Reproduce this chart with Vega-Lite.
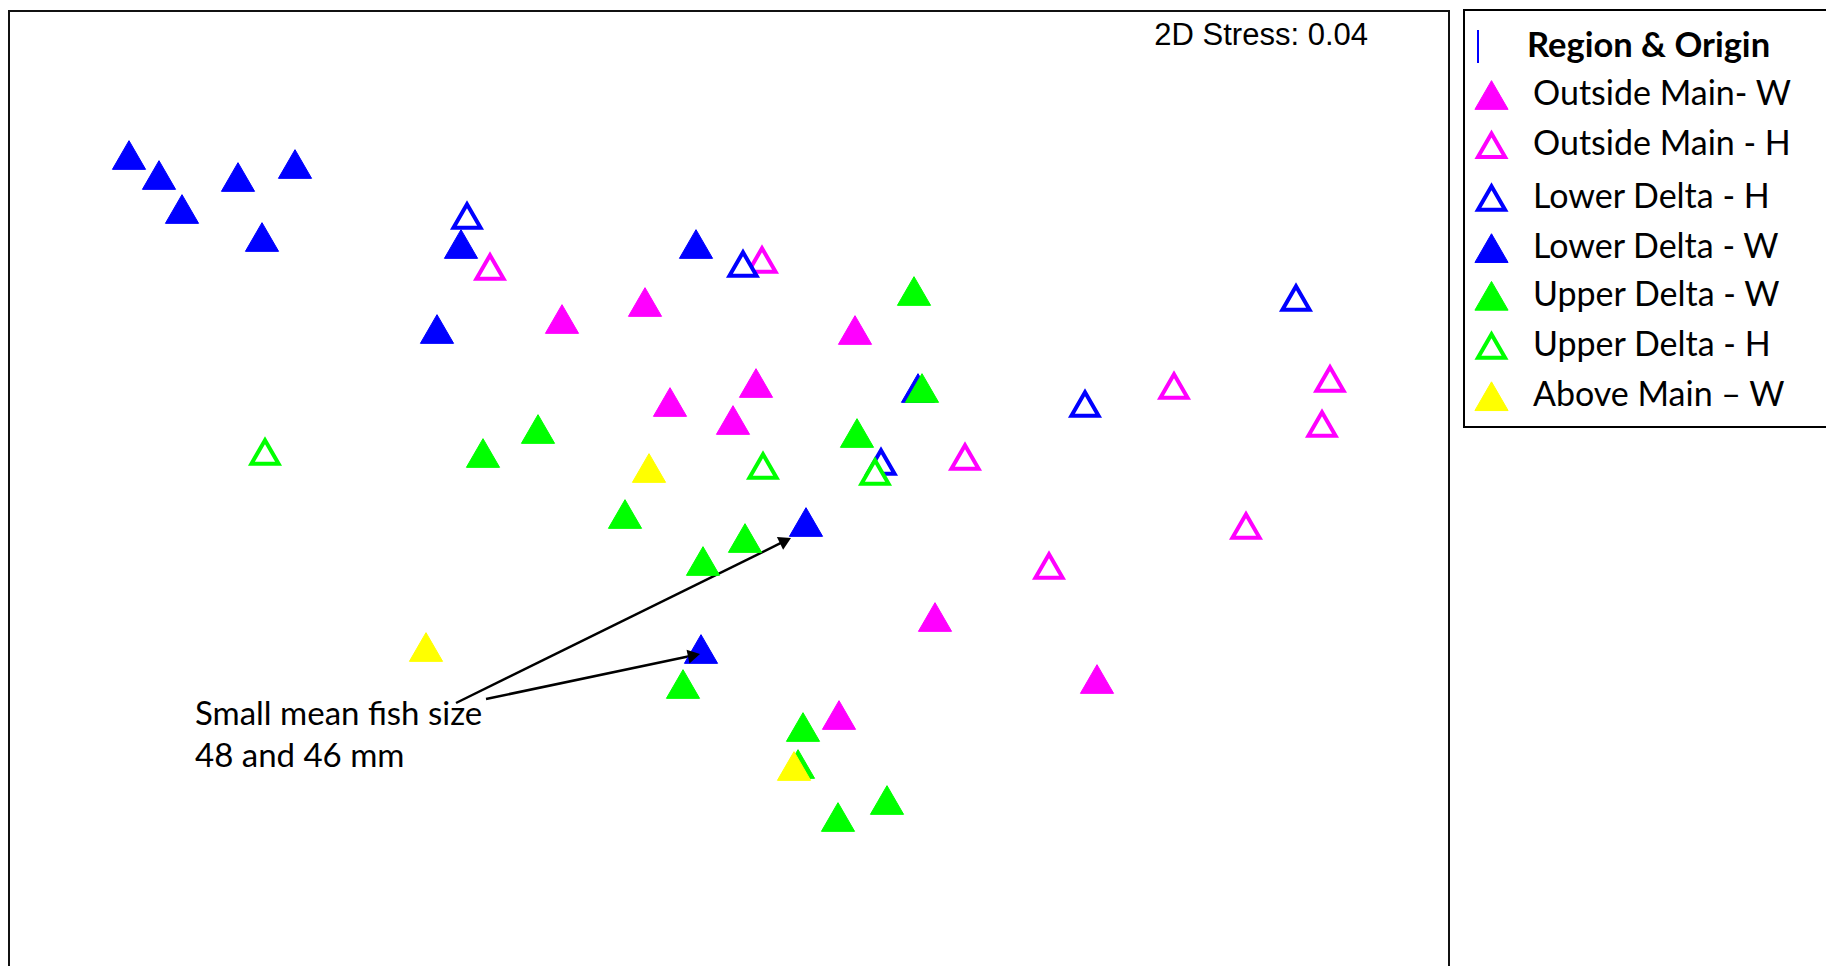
{
  "$schema": "https://vega.github.io/schema/vega-lite/v6.json",
  "width": 1440,
  "height": 1000,
  "autosize": {"type": "none"},
  "padding": {"left": 9, "top": 11, "right": 377, "bottom": 0},
  "background": "white",
  "config": {
    "view": {"stroke": "#111111", "strokeWidth": 2},
    "axis": {"grid": false}
  },
  "datasets": {
    "pts": [
      {"x": -1.67, "y": 1.69, "group": "Outside Main- W"},
      {"x": -0.84, "y": 1.86, "group": "Outside Main- W"},
      {"x": -0.59, "y": 0.86, "group": "Outside Main- W"},
      {"x": 1.26, "y": 1.58, "group": "Outside Main- W"},
      {"x": 0.27, "y": 1.05, "group": "Outside Main- W"},
      {"x": 0.04, "y": 0.68, "group": "Outside Main- W"},
      {"x": 2.06, "y": -1.29, "group": "Outside Main- W"},
      {"x": 3.68, "y": -1.91, "group": "Outside Main- W"},
      {"x": 1.10, "y": -2.27, "group": "Outside Main- W"},
      {"x": -2.39, "y": 2.21, "group": "Outside Main - H"},
      {"x": 0.33, "y": 2.28, "group": "Outside Main - H"},
      {"x": 4.45, "y": 1.02, "group": "Outside Main - H"},
      {"x": 6.01, "y": 1.09, "group": "Outside Main - H"},
      {"x": 5.93, "y": 0.64, "group": "Outside Main - H"},
      {"x": 2.36, "y": 0.31, "group": "Outside Main - H"},
      {"x": 5.17, "y": -0.38, "group": "Outside Main - H"},
      {"x": 3.20, "y": -0.78, "group": "Outside Main - H"},
      {"x": -2.62, "y": 2.72, "group": "Lower Delta - H"},
      {"x": 0.14, "y": 2.24, "group": "Lower Delta - H"},
      {"x": 5.67, "y": 1.90, "group": "Lower Delta - H"},
      {"x": 3.56, "y": 0.84, "group": "Lower Delta - H"},
      {"x": 1.52, "y": 0.26, "group": "Lower Delta - H"},
      {"x": -6.00, "y": 3.33, "group": "Lower Delta - W"},
      {"x": -5.70, "y": 3.13, "group": "Lower Delta - W"},
      {"x": -4.91, "y": 3.11, "group": "Lower Delta - W"},
      {"x": -4.34, "y": 3.24, "group": "Lower Delta - W"},
      {"x": -5.47, "y": 2.79, "group": "Lower Delta - W"},
      {"x": -4.67, "y": 2.51, "group": "Lower Delta - W"},
      {"x": -2.68, "y": 2.44, "group": "Lower Delta - W"},
      {"x": -2.92, "y": 1.59, "group": "Lower Delta - W"},
      {"x": -0.33, "y": 2.44, "group": "Lower Delta - W"},
      {"x": 1.89, "y": 1.00, "group": "Lower Delta - W"},
      {"x": 0.77, "y": -0.34, "group": "Lower Delta - W"},
      {"x": -0.28, "y": -1.61, "group": "Lower Delta - W"},
      {"x": -1.91, "y": 0.59, "group": "Upper Delta - W"},
      {"x": -2.46, "y": 0.35, "group": "Upper Delta - W"},
      {"x": 1.85, "y": 1.97, "group": "Upper Delta - W"},
      {"x": 1.93, "y": 1.00, "group": "Upper Delta - W"},
      {"x": 1.28, "y": 0.55, "group": "Upper Delta - W"},
      {"x": -1.04, "y": -0.26, "group": "Upper Delta - W"},
      {"x": 0.16, "y": -0.50, "group": "Upper Delta - W"},
      {"x": -0.26, "y": -0.73, "group": "Upper Delta - W"},
      {"x": -0.46, "y": -1.96, "group": "Upper Delta - W"},
      {"x": 0.74, "y": -2.39, "group": "Upper Delta - W"},
      {"x": 0.69, "y": -2.76, "group": "Upper Delta - W"},
      {"x": 1.58, "y": -3.12, "group": "Upper Delta - W"},
      {"x": 1.09, "y": -3.29, "group": "Upper Delta - W"},
      {"x": -4.64, "y": 0.36, "group": "Upper Delta - H"},
      {"x": 0.34, "y": 0.22, "group": "Upper Delta - H"},
      {"x": 1.46, "y": 0.16, "group": "Upper Delta - H"},
      {"x": -0.80, "y": 0.20, "group": "Above Main – W"},
      {"x": -3.03, "y": -1.59, "group": "Above Main – W"},
      {"x": 0.65, "y": -2.78, "group": "Above Main – W"}
    ],
    "arrows": [
      {"x": -2.73, "y": -2.15, "x2": 0.565, "y2": -0.527},
      {"x": -2.43, "y": -2.11, "x2": -0.35, "y2": -1.673}
    ],
    "heads": [
      {"id": 1, "x": 0.565, "y": -0.527},
      {"id": 2, "x": -0.35, "y": -1.673}
    ],
    "note": [
      {"x": -5.34, "y": -2.37, "label": "Small mean fish size\n48 and 46 mm"}
    ],
    "stress": [
      {"x": 6.39, "y": 4.43, "label": "2D Stress: 0.04"}
    ],
    "bar": [
      {"x": 7.49, "y": 4.58, "y2": 4.25}
    ],
    "legendbox": [
      {"x": 7.35, "x2": 12.0, "y": 4.78, "y2": 0.61}
    ]
  },
  "layer": [
    {
      "data": {"name": "arrows"},
      "mark": {"type": "rule", "color": "#000000", "strokeWidth": 2.5},
      "encoding": {
        "x": {"field": "x", "type": "quantitative", "scale": {"domain": [-7.2, 7.2], "nice": false, "zero": false}, "axis": null},
        "y": {"field": "y", "type": "quantitative", "scale": {"domain": [-5.23, 4.77], "nice": false, "zero": false}, "axis": null},
        "x2": {"field": "x2"},
        "y2": {"field": "y2"}
      }
    },
    {
      "data": {"name": "legendbox"},
      "mark": {"type": "rect", "fill": null, "fillOpacity": 0, "stroke": "#000000", "strokeWidth": 2, "clip": false},
      "encoding": {
        "x": {"field": "x", "type": "quantitative"},
        "x2": {"field": "x2"},
        "y": {"field": "y", "type": "quantitative"},
        "y2": {"field": "y2"}
      }
    },
    {
      "data": {"name": "pts"},
      "mark": {"type": "point", "shape": "triangle-up", "filled": true, "opacity": 1},
      "encoding": {
        "x": {"field": "x", "type": "quantitative"},
        "y": {"field": "y", "type": "quantitative"},
        "fill": {
          "field": "group", "type": "nominal",
          "scale": {
            "domain": ["Outside Main- W", "Outside Main - H", "Lower Delta - H", "Lower Delta - W", "Upper Delta - W", "Upper Delta - H", "Above Main – W"],
            "range": ["#FF00FF", "#FFFFFF", "#FFFFFF", "#0000FF", "#00FF00", "#FFFFFF", "#FFFF00"]
          },
          "legend": {
            "title": "Region & Origin",
            "orient": "none",
            "legendX": 1455,
            "legendY": -1,
            "symbolType": "triangle-up",
            "symbolOpacity": 1,
            "padding": 10,
            "titleFont": "Lato",
            "titleFontSize": 34.5,
            "titleFontWeight": "bold",
            "titleColor": "#000000",
            "titlePadding": 23,
            "titleLimit": 700,
            "titleBaseline": "top",
            "labelFont": "Lato",
            "labelFontSize": 34,
            "labelColor": "#000000",
            "labelLimit": 600,
            "labelOffset": 24,
            "rowPadding": 12.7,
            "encode": {
              "title": {"update": {"dx": {"value": 53}, "dy": {"value": 10}}}
            }
          }
        },
        "stroke": {
          "field": "group", "type": "nominal",
          "scale": {
            "domain": ["Outside Main- W", "Outside Main - H", "Lower Delta - H", "Lower Delta - W", "Upper Delta - W", "Upper Delta - H", "Above Main – W"],
            "range": ["#FF00FF", "#FF00FF", "#0000FF", "#0000FF", "#00FF00", "#00FF00", "#FFFF00"]
          }
        },
        "size": {
          "field": "group", "type": "nominal",
          "scale": {
            "type": "ordinal",
            "domain": ["Outside Main- W", "Outside Main - H", "Lower Delta - H", "Lower Delta - W", "Upper Delta - W", "Upper Delta - H", "Above Main – W"],
            "range": [1100, 735, 735, 1100, 1100, 735, 1100]
          }
        },
        "strokeWidth": {
          "field": "group", "type": "nominal",
          "scale": {
            "type": "ordinal",
            "domain": ["Outside Main- W", "Outside Main - H", "Lower Delta - H", "Lower Delta - W", "Upper Delta - W", "Upper Delta - H", "Above Main – W"],
            "range": [1, 4, 4, 1, 1, 4, 1]
          }
        }
      }
    },
    {
      "data": {"name": "heads"},
      "transform": [{"filter": "datum.id == 1"}],
      "mark": {"type": "point", "shape": "triangle-up", "filled": true, "opacity": 1, "color": "#000000", "size": 200, "angle": 63.8},
      "encoding": {
        "x": {"field": "x", "type": "quantitative"},
        "y": {"field": "y", "type": "quantitative"}
      }
    },
    {
      "data": {"name": "heads"},
      "transform": [{"filter": "datum.id == 2"}],
      "mark": {"type": "point", "shape": "triangle-up", "filled": true, "opacity": 1, "color": "#000000", "size": 200, "angle": 78.1},
      "encoding": {
        "x": {"field": "x", "type": "quantitative"},
        "y": {"field": "y", "type": "quantitative"}
      }
    },
    {
      "data": {"name": "note"},
      "mark": {"type": "text", "align": "left", "baseline": "alphabetic", "font": "Lato", "fontSize": 33, "color": "#000000", "lineBreak": "\n", "lineHeight": 42},
      "encoding": {
        "x": {"field": "x", "type": "quantitative"},
        "y": {"field": "y", "type": "quantitative"},
        "text": {"field": "label"}
      }
    },
    {
      "data": {"name": "stress"},
      "mark": {"type": "text", "align": "right", "baseline": "alphabetic", "font": "Liberation Sans", "fontSize": 31, "color": "#000000"},
      "encoding": {
        "x": {"field": "x", "type": "quantitative"},
        "y": {"field": "y", "type": "quantitative"},
        "text": {"field": "label"}
      }
    },
    {
      "data": {"name": "bar"},
      "mark": {"type": "rule", "color": "#0000FF", "strokeWidth": 2},
      "encoding": {
        "x": {"field": "x", "type": "quantitative"},
        "y": {"field": "y", "type": "quantitative"},
        "y2": {"field": "y2"}
      }
    }
  ]
}
